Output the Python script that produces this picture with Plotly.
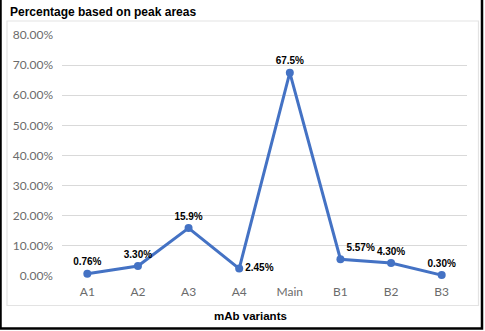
import plotly.graph_objects as go

# Relative peak areas of the mAb charge variants
variants = ["A1", "A2", "A3", "A4", "Main", "B1", "B2", "B3"]
peak_share = [0.0076, 0.0330, 0.159, 0.0245, 0.675, 0.0557, 0.0430, 0.0030]
label_decimals = [2, 2, 1, 2, 1, 2, 2, 2]
label_positions = ["top center", "top center", "top center", "middle right",
                   "top center", "top right", "top center", "top center"]
y_ticks = [0, 0.1, 0.2, 0.3, 0.4, 0.5, 0.6, 0.7, 0.8]

labels = [f"{v * 100:.{d}f}%" for v, d in zip(peak_share, label_decimals)]

W, H = 485, 331
ML, MR, MT, MB = 62, 18, 35, 55
PW, PH = W - ML - MR, H - MT - MB


def px(x):
    return (x - ML) / PW


def py(y):
    return (H - MB - y) / PH


fig = go.Figure()
fig.add_trace(go.Scatter(
    x=variants,
    y=peak_share,
    mode="lines+markers+text",
    line=dict(color="#4472C4", width=3),
    marker=dict(color="#4472C4", size=8),
    text=labels,
    textposition=label_positions,
    textfont=dict(family="Liberation Sans", size=10, color="#000000", weight="bold"),
    cliponaxis=False,
    hoverinfo="skip",
))

fig.update_layout(
    width=W,
    height=H,
    margin=dict(l=ML, r=MR, t=MT, b=MB),
    paper_bgcolor="white",
    plot_bgcolor="white",
    showlegend=False,
    xaxis=dict(
        type="category",
        range=[-0.5, len(variants) - 0.5],
        showgrid=False,
        showline=False,
        zeroline=False,
        ticks="",
        ticklabelstandoff=7,
        tickfont=dict(family="Lato", size=12, color="#6B6B6B"),
    ),
    yaxis=dict(
        range=[0, 0.8],
        tickvals=y_ticks,
        tickformat=".2%",
        showgrid=True,
        gridcolor="#D9D9D9",
        gridwidth=1,
        zeroline=False,
        showline=False,
        ticks="",
        ticklabelstandoff=8,
        tickfont=dict(family="Lato", size=12, color="#6B6B6B"),
    ),
    annotations=[
        dict(text="<b>Percentage based on peak areas</b>", x=px(8), y=py(12),
             xref="paper", yref="paper", xanchor="left", yanchor="middle",
             showarrow=False,
             font=dict(family="Liberation Sans", size=12, color="#000000")),
        dict(text="<b>mAb variants</b>", x=px(250), y=py(316),
             xref="paper", yref="paper", xanchor="center", yanchor="middle",
             showarrow=False,
             font=dict(family="Liberation Sans", size=11.5, color="#000000")),
    ],
    shapes=[
        # inner chart-area frame
        dict(type="rect", xref="paper", yref="paper",
             x0=px(7), x1=px(478.5), y0=py(305.5), y1=py(21),
             line=dict(color="#E3E3E3", width=1.2), layer="below"),
        # outer black frame
        dict(type="rect", xref="paper", yref="paper",
             x0=px(0.5), x1=px(482), y0=py(328.5), y1=py(-5),
             line=dict(color="#000000", width=2.5), layer="above"),
    ],
)

fig.write_html("out.html")
